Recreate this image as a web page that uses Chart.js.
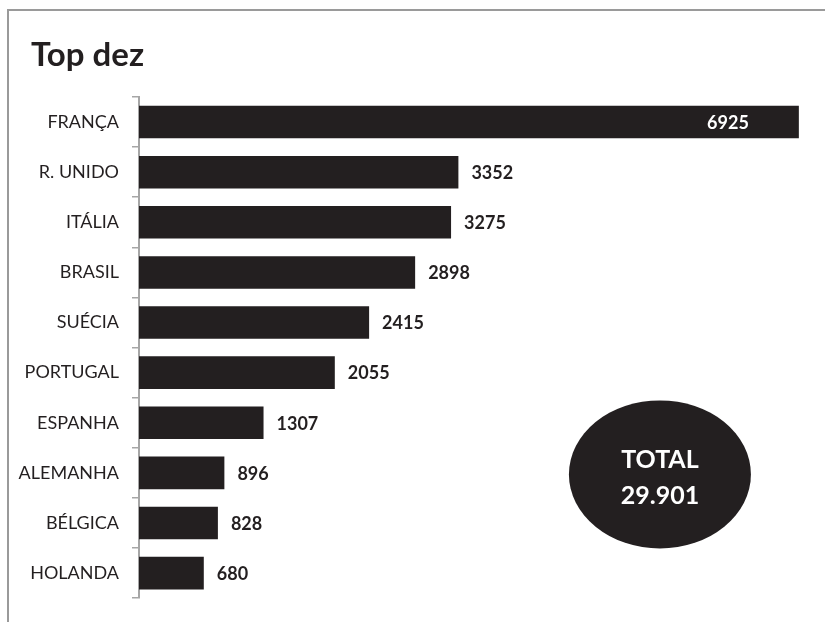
<!DOCTYPE html>
<html lang="pt">
<head>
<meta charset="utf-8">
<title>Top dez</title>
<script src="https://cdn.jsdelivr.net/npm/chart.js@4/dist/chart.umd.min.js"></script>
<style>
  html, body { margin: 0; padding: 0; background: #fff; }
  #wrap { position: relative; width: 825px; height: 622px; }
</style>
</head>
<body>
<div id="wrap"><canvas id="chart" width="825" height="622"></canvas></div>
<script>
const countries = ["FRANÇA", "R. UNIDO", "ITÁLIA", "BRASIL", "SUÉCIA", "PORTUGAL", "ESPANHA", "ALEMANHA", "BÉLGICA", "HOLANDA"];
const visitors = [6925, 3352, 3275, 2898, 2415, 2055, 1307, 896, 828, 680];
const chartTitle = "Top dez";
const totalLines = ["TOTAL", "29.901"];

const ink = "#231f20";
const axisGray = "#a6a6a6";
const fontFamily = "Lato, 'Open Sans', sans-serif";

// outer frame (top and left edges) plus the title in the corner
const framePlugin = {
  id: "frame",
  beforeDraw(chart) {
    const { ctx } = chart;
    ctx.save();
    ctx.strokeStyle = "#9a9a9a";
    ctx.lineWidth = 2;
    ctx.beginPath();
    ctx.moveTo(chart.width, 10);
    ctx.lineTo(8, 10);
    ctx.lineTo(8, chart.height);
    ctx.stroke();

    ctx.fillStyle = ink;
    ctx.font = `bold 33px ${fontFamily}`;
    ctx.textAlign = "left";
    ctx.textBaseline = "alphabetic";
    ctx.fillText(chartTitle, 31, 66);
    ctx.restore();
  }
};

// numbers next to each bar, the first one sits inside its bar
const valueLabels = {
  id: "valueLabels",
  afterDatasetsDraw(chart) {
    const { ctx } = chart;
    const meta = chart.getDatasetMeta(0);
    ctx.save();
    ctx.font = `bold 18px ${fontFamily}`;
    ctx.textBaseline = "middle";
    meta.data.forEach((bar, i) => {
      const text = String(visitors[i]);
      if (i === 0) {
        ctx.fillStyle = "#ffffff";
        ctx.textAlign = "right";
        ctx.fillText(text, bar.x - 50, bar.y + 1);
      } else {
        ctx.fillStyle = ink;
        ctx.textAlign = "left";
        ctx.fillText(text, bar.x + 13, bar.y + 1);
      }
    });
    ctx.restore();
  }
};

// dark ellipse with the overall total
const totalBadge = {
  id: "totalBadge",
  afterDraw(chart) {
    const { ctx, chartArea } = chart;
    const cx = chartArea.left + (chartArea.right - chartArea.left) * 0.781;
    const cy = chartArea.top + (chartArea.bottom - chartArea.top) * 0.753;
    ctx.save();
    ctx.fillStyle = ink;
    ctx.beginPath();
    ctx.ellipse(cx, cy, 91, 74, 0, 0, Math.PI * 2);
    ctx.fill();
    ctx.fillStyle = "#ffffff";
    ctx.font = `bold 25px ${fontFamily}`;
    ctx.textAlign = "center";
    ctx.textBaseline = "middle";
    ctx.fillText(totalLines[0], cx, cy - 14);
    ctx.fillText(totalLines[1], cx, cy + 22);
    ctx.restore();
  }
};

new Chart(document.getElementById("chart"), {
  type: "bar",
  data: {
    labels: countries,
    datasets: [{
      data: visitors,
      backgroundColor: ink,
      borderWidth: 0,
      categoryPercentage: 1,
      barPercentage: 0.65
    }]
  },
  options: {
    indexAxis: "y",
    responsive: false,
    animation: false,
    layout: { padding: { left: 0, right: 19, bottom: 19, top: 97 } },
    plugins: {
      legend: { display: false },
      tooltip: { enabled: false },
      title: { display: false }
    },
    scales: {
      x: {
        display: false,
        min: 0,
        max: 7000
      },
      y: {
        afterFit(scale) { scale.width = 139; },
        grid: {
          drawOnChartArea: false,
          drawTicks: true,
          tickLength: 7,
          color: axisGray,
          lineWidth: 1.5
        },
        border: { display: true, color: axisGray, width: 2 },
        ticks: {
          color: ink,
          padding: 13,
          font: { family: fontFamily, size: 18 }
        }
      }
    }
  },
  plugins: [framePlugin, valueLabels, totalBadge]
});
</script>
</body>
</html>
